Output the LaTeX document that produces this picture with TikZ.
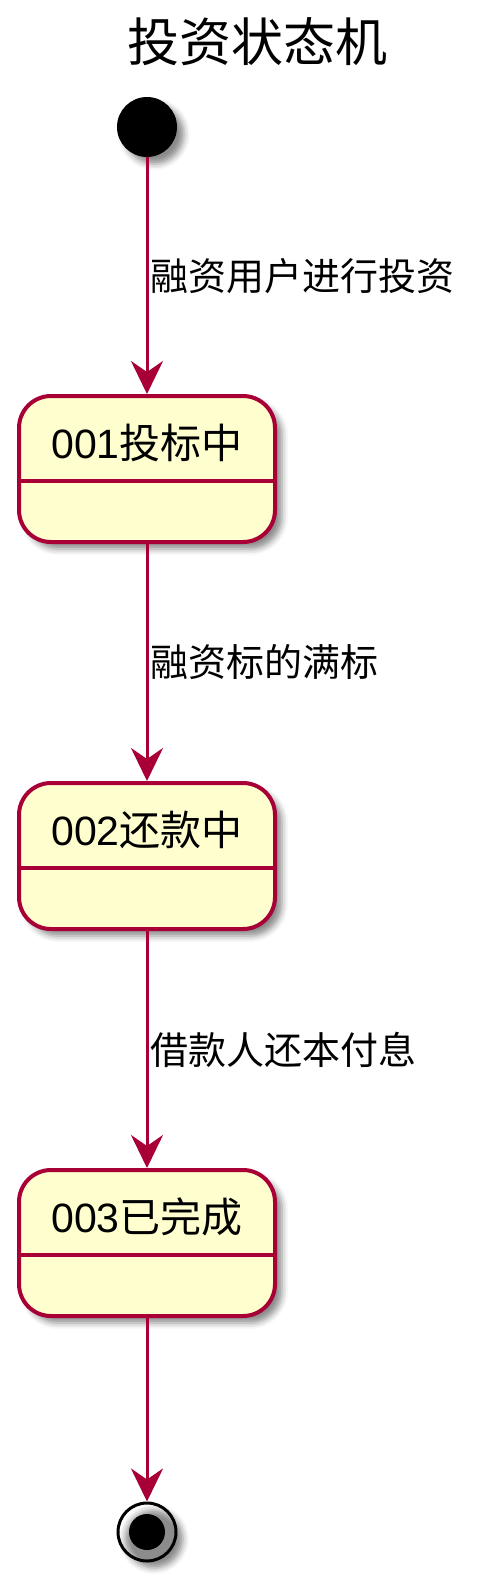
\documentclass[tikz,border=0pt]{standalone}
\usepackage{fontspec}
\setmainfont{Liberation Sans}
\newfontfamily\cjk{Noto Sans CJK SC}
\usetikzlibrary{arrows.meta,shadows.blur}
\definecolor{umlred}{RGB}{168,0,54}
\definecolor{umlfill}{RGB}{254,254,206}
\tikzset{
  shade/.style={blur shadow={shadow xshift=7pt,shadow yshift=-7pt,shadow blur radius=6pt,shadow opacity=45}},
  statebox/.style={draw=umlred,fill=umlfill,line width=4pt,rounded corners=32pt,minimum width=256pt,minimum height=146pt,shade},
  statename/.style={font=\fontsize{41}{48}\selectfont,inner sep=0pt},
  divider/.style={draw=umlred,line width=4pt},
  startdot/.style={circle,fill=black,minimum size=60pt,inner sep=0pt,shade},
  endring/.style={circle,draw=black,line width=3pt,minimum size=58pt,inner sep=0pt,shade},
  endcore/.style={circle,fill=black,minimum size=36pt,inner sep=0pt},
  trans/.style={draw=umlred,line width=3pt,-{Stealth[length=33pt,width=32pt,inset=11pt]}},
  translabel/.style={anchor=west,font=\cjk\fontsize{38}{44}\selectfont,inner sep=2pt,text=black}
}
\begin{document}
\begin{tikzpicture}[x=1pt,y=-1pt]
\useasboundingbox (0,0) rectangle (495,1591);
\node[font=\cjk\fontsize{52}{60}\selectfont] (title) at (257,42) {投资状态机};
\node[startdot] (start) at (147,127) {};
\node[statebox] (s1) at (147,469) {};
\node[statename] (n1) at (147,443) {001{\cjk 投标中}};
\draw[divider] ([yshift=-87pt]s1.north west) -- ([yshift=-87pt]s1.north east);
\node[statebox] (s2) at (147,856) {};
\node[statename] (n2) at (147,830) {002{\cjk 还款中}};
\draw[divider] ([yshift=-87pt]s2.north west) -- ([yshift=-87pt]s2.north east);
\node[statebox] (s3) at (147,1243) {};
\node[statename] (n3) at (147,1217) {003{\cjk 已完成}};
\draw[divider] ([yshift=-87pt]s3.north west) -- ([yshift=-87pt]s3.north east);
\node[endring] (stop) at (147,1532) {};
\node[endcore] (stopcore) at (stop) {};
\draw[trans] (start) -- node[translabel] {融资用户进行投资} (s1);
\draw[trans] (s1) -- node[translabel] {融资标的满标} (s2);
\draw[trans] (s2) -- node[translabel] {借款人还本付息} (s3);
\draw[trans] (s3) -- (stop);
\end{tikzpicture}
\end{document}
